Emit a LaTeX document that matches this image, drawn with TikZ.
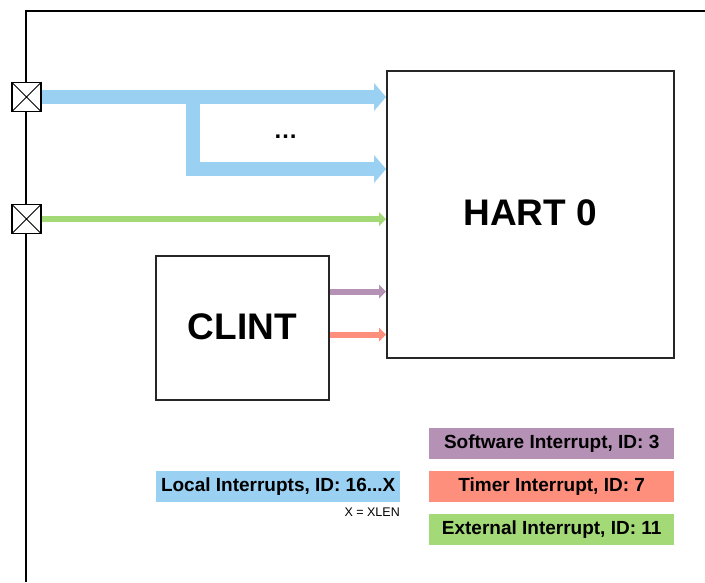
\documentclass[tikz,border=0pt]{standalone}
\usepackage{fontspec}
\setmainfont{Liberation Sans}
\usetikzlibrary{arrows.meta,calc}
\definecolor{cblue}{HTML}{9AD0F2}
\definecolor{cgreen}{HTML}{A3D977}
\definecolor{cpurple}{HTML}{B591B6}
\definecolor{cred}{HTML}{FF8F7D}
\begin{document}
\begin{tikzpicture}[x=1pt,y=-1pt,
  frame/.style={draw=black,line width=1.3pt},
  blk/.style={draw=black!85,line width=1.7pt,fill=white,inner sep=0pt,anchor=north west,
    font=\fontsize{37}{40}\selectfont\bfseries},
  xbox/.style={draw=black,line width=1.3pt,fill=white,minimum width=29pt,minimum height=29pt,inner sep=0pt,
    path picture={\draw[line width=1pt] (path picture bounding box.north west) -- (path picture bounding box.south east)
      (path picture bounding box.north east) -- (path picture bounding box.south west);}},
  bigarr/.style={draw=cblue,line width=14pt,line join=miter,
    -{Triangle[length=12pt,width=28pt,line width=0pt]}},
  thinarr/.style={draw=#1,line width=6pt,-{Triangle[length=7pt,width=14pt,line width=0pt]}},
  leg/.style={fill=#1,minimum height=31pt,inner sep=0pt,anchor=north west,
    font=\fontsize{19}{22}\selectfont\bfseries},
]
\useasboundingbox (0,0) rectangle (705,582);
\fill[white] (0,0) rectangle (705,582);
% outer frame
\draw[frame] (705,11) -- (26,11) -- (26,582);
% blocks
\node[blk,minimum width=287pt,minimum height=287pt] (hart) at (386,70) {\raisebox{3pt}{HART 0}};
\node[blk,minimum width=173pt,minimum height=144pt] (clint) at (155,255) {\raisebox{3pt}{CLINT}};
% pins
\node[xbox] (p1) at (26.5,97) {};
\node[xbox] (p2) at (26.5,219) {};
% coordinates
\coordinate (br) at (192.5,97);
\coordinate (lo) at (hart.west |- 0,169);
\coordinate (sw) at (clint.east |- 0,291.5);
\coordinate (tm) at (clint.east |- 0,334.5);
% connectors
\draw[bigarr] (p1.east) -- (hart.west |- p1);
\draw[bigarr] (br) |- (lo);
\draw[thinarr=cgreen] (p2.east) -- (hart.west |- p2);
\draw[thinarr=cpurple] (sw) -- (hart.west |- sw);
\draw[thinarr=cred] (tm) -- (hart.west |- tm);
\node[anchor=base,font=\fontsize{24}{26}\selectfont\bfseries,inner sep=0pt] (dots) at (285.5,138.5) {…};
% legend
\node[leg=cpurple,minimum width=245pt] (lsw) at (429,428) {Software Interrupt, ID: 3};
\node[leg=cred,minimum width=245pt] (ltm) at (429,471) {Timer Interrupt, ID: 7};
\node[leg=cgreen,minimum width=245pt] (lex) at (429,514) {External Interrupt, ID: 11};
\node[leg=cblue,minimum width=244pt] (llo) at (156,471) {Local Interrupts, ID: 16...X};
\node[anchor=base east,inner sep=0pt,font=\fontsize{12.5}{14}\selectfont] (xlen) at (400,516) {X = XLEN};
\end{tikzpicture}
\end{document}
